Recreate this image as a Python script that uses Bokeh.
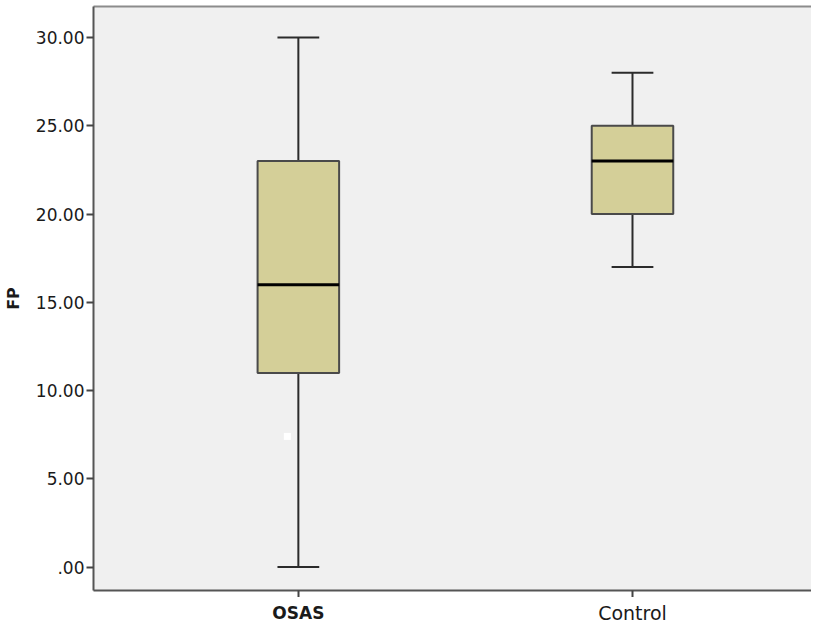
from bokeh.plotting import figure
from bokeh.models import Range1d, FixedTicker, ColumnDataSource, LinearAxis
from bokeh.layouts import column
from bokeh.core.properties import value
from bokeh.embed import file_html
from bokeh.resources import INLINE

# ---- data ----
groups = ["OSAS", "Control"]
group_pos = [1, 2]
whisker_low = [0.0, 17.0]
q1 = [11.0, 20.0]
median = [16.0, 23.0]
q3 = [23.0, 25.0]
whisker_high = [30.0, 28.0]
# small white point visible near OSAS
point_x = [0.967]
point_y = [7.4]

y_ticks = [0, 5, 10, 15, 20, 25, 30]
y_tick_labels = [".00", "5.00", "10.00", "15.00", "20.00", "25.00", "30.00"]
y_label = "FP"

BOX_W = 0.244
CAP_W = 0.125
LEFT = 91
W = 811

xr = Range1d(0.3899 - (LEFT - 90) / 336, 0.3899 + (W - 90) / 336)

p = figure(width=W, height=597, output_backend="svg", toolbar_location=None,
           x_range=xr, y_range=Range1d(-1.33, 31.76),
           min_border_left=LEFT, min_border_right=0, min_border_top=6, min_border_bottom=0)

p.background_fill_color = "#f0f0f0"
p.border_fill_color = "white"
p.outline_line_color = None
p.xgrid.visible = False
p.ygrid.visible = False

src = ColumnDataSource(dict(
    x=group_pos, lo=whisker_low, q1=q1, med=median, q3=q3, hi=whisker_high,
    xl=[v - BOX_W / 2 for v in group_pos], xr=[v + BOX_W / 2 for v in group_pos],
    cl=[v - CAP_W / 2 for v in group_pos], cr=[v + CAP_W / 2 for v in group_pos],
))

wc = "#2b2b2b"
p.segment(x0="x", y0="q3", x1="x", y1="hi", source=src, line_color=wc, line_width=2)
p.segment(x0="x", y0="lo", x1="x", y1="q1", source=src, line_color=wc, line_width=2)
p.segment(x0="cl", y0="hi", x1="cr", y1="hi", source=src, line_color=wc, line_width=2)
p.segment(x0="cl", y0="lo", x1="cr", y1="lo", source=src, line_color=wc, line_width=2)
p.vbar(x="x", width=BOX_W, top="q3", bottom="q1", source=src,
       fill_color="#d4cf98", line_color="#4a4a4a", line_width=2)
p.segment(x0="xl", y0="med", x1="xr", y1="med", source=src, line_color="black", line_width=3)
p.scatter(point_x, point_y, marker="square", size=7, fill_color="white", line_color=None)

# y axis
ya = p.yaxis[0]
ya.ticker = FixedTicker(ticks=y_ticks)
ya.major_label_overrides = {t: s for t, s in zip(y_ticks, y_tick_labels)}
ya.major_label_text_font = "DejaVu Sans"
ya.major_label_text_font_size = "17px"
ya.major_label_text_color = "#1a1a1a"
ya.major_label_standoff = 2
ya.major_tick_out = 7
ya.major_tick_in = 0
ya.minor_tick_out = 0
ya.minor_tick_in = 0
ya.major_tick_line_color = "#444444"
ya.major_tick_line_width = 2
ya.axis_line_color = "#555555"
ya.axis_line_width = 2
ya.axis_label = y_label
ya.axis_label_text_font = "DejaVu Sans"
ya.axis_label_text_font_style = "bold"
ya.axis_label_text_font_size = "16px"
ya.axis_label_text_color = "#1a1a1a"
ya.axis_label_standoff = 10

# x axis (ticks only; names drawn below)
xa = p.xaxis[0]
xa.ticker = FixedTicker(ticks=group_pos)
xa.major_label_overrides = {g: "" for g in group_pos}
xa.major_label_text_font_size = "0px"
xa.major_label_standoff = 0
xa.major_tick_out = 7
xa.major_tick_in = 0
xa.minor_tick_out = 0
xa.minor_tick_in = 0
xa.major_tick_line_color = "#444444"
xa.major_tick_line_width = 2
xa.axis_line_color = "#555555"
xa.axis_line_width = 2

# top border line
top = LinearAxis(ticker=FixedTicker(ticks=[]), major_label_text_font_size="0px",
                 major_tick_out=0, major_tick_in=0, minor_tick_out=0, minor_tick_in=0,
                 axis_line_color="#8c8c8c", axis_line_width=2, major_label_standoff=0)
p.add_layout(top, "above")

# category names
lab = figure(width=W, height=28, output_backend="svg", toolbar_location=None,
             x_range=xr, y_range=Range1d(0, 28),
             x_axis_location=None, y_axis_location=None,
             min_border_left=LEFT, min_border_right=0, min_border_top=0, min_border_bottom=0)
lab.outline_line_color = None
lab.background_fill_color = "white"
lab.xgrid.visible = False
lab.ygrid.visible = False
styles = [("bold", "17px"), ("normal", "19px")]
for gp, name, (st, sz) in zip(group_pos, groups, styles):
    lab.text(x=[gp], y=[13], text=[name], text_align="center", text_baseline="middle",
             text_font=value("DejaVu Sans"), text_font_style=st,
             text_font_size=sz, text_color="#1a1a1a")

layout = column(p, lab, spacing=0)
open("out.html", "w").write(file_html(layout, INLINE))
